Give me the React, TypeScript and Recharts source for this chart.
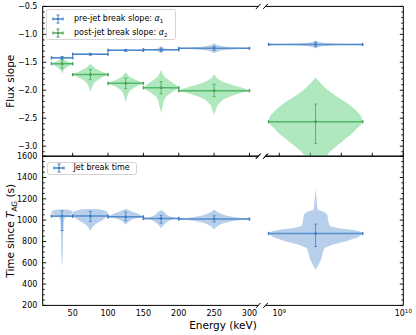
import React from 'react';
import { ComposedChart, Scatter, XAxis, YAxis, ErrorBar, ReferenceLine, Legend, Label } from 'recharts';

const FONT = '"DejaVu Sans", sans-serif';

// ---------------- data ----------------
// energy bins (keV); last bin is the very-high-energy one
const binLowKeV = [20, 50, 100, 150, 200, 8.2e8];
const binHighKeV = [50, 100, 150, 200, 300, 4.7e9];

const alpha1 = [-1.42, -1.355, -1.285, -1.275, -1.25, -1.18];
const alpha1ErrPlus = [0.02, 0.015, 0.015, 0.03, 0.035, 0.04];
const alpha1ErrMinus = [0.02, 0.015, 0.015, 0.03, 0.035, 0.04];

const alpha2 = [-1.525, -1.72, -1.876, -1.955, -2.008, -2.563];
const alpha2ErrPlus = [0.07, 0.09, 0.095, 0.11, 0.114, 0.317];
const alpha2ErrMinus = [0.08, 0.09, 0.095, 0.11, 0.107, 0.393];

const tJet = [1038, 1038, 1031, 1016, 1010, 875];
const tJetErrPlus = [50, 44, 45, 28, 31, 88];
const tJetErrMinus = [135, 50, 36, 44, 28, 122];

// violin outlines: [value, half-width as a fraction of half the bin width]
const alpha1Violins = [
  [[-1.39, 0], [-1.4, 0.15], [-1.41, 0.4], [-1.42, 1], [-1.43, 0.4], [-1.44, 0.15], [-1.455, 0]],
  [[-1.33, 0], [-1.34, 0.15], [-1.348, 0.45], [-1.355, 1], [-1.362, 0.45], [-1.37, 0.15], [-1.38, 0]],
  [[-1.26, 0], [-1.27, 0.15], [-1.278, 0.45], [-1.285, 1], [-1.292, 0.45], [-1.3, 0.15], [-1.31, 0]],
  [[-1.205, 0], [-1.235, 0.07], [-1.252, 0.2], [-1.263, 0.42], [-1.275, 1], [-1.287, 0.42], [-1.298, 0.2], [-1.315, 0.07], [-1.345, 0]],
  [[-1.16, 0], [-1.19, 0.08], [-1.21, 0.2], [-1.225, 0.4], [-1.238, 0.7], [-1.25, 1], [-1.262, 0.7], [-1.275, 0.4], [-1.29, 0.2], [-1.31, 0.08], [-1.34, 0]],
  [[-1.11, 0], [-1.135, 0.06], [-1.152, 0.18], [-1.165, 0.4], [-1.18, 1], [-1.195, 0.4], [-1.208, 0.18], [-1.225, 0.06], [-1.25, 0]],
];

const alpha2Violins = [
  [[-1.43, 0], [-1.46, 0.25], [-1.49, 0.6], [-1.51, 0.9], [-1.525, 1], [-1.55, 0.8], [-1.58, 0.5], [-1.61, 0.28], [-1.64, 0.15], [-1.68, 0.06], [-1.715, 0]],
  [[-1.52, 0], [-1.56, 0.1], [-1.607, 0.28], [-1.668, 0.66], [-1.7, 0.92], [-1.72, 1], [-1.75, 0.8], [-1.786, 0.57], [-1.847, 0.28], [-1.9, 0.15], [-1.936, 0.1], [-1.98, 0.05], [-2.03, 0]],
  [[-1.68, 0], [-1.72, 0.1], [-1.758, 0.22], [-1.817, 0.57], [-1.85, 0.85], [-1.876, 1], [-1.905, 0.8], [-1.936, 0.57], [-1.996, 0.28], [-2.04, 0.17], [-2.085, 0.11], [-2.15, 0.05], [-2.23, 0]],
  [[-1.63, 0], [-1.7, 0.08], [-1.758, 0.19], [-1.8, 0.35], [-1.847, 0.57], [-1.906, 0.85], [-1.955, 1], [-1.99, 0.85], [-2.026, 0.66], [-2.07, 0.45], [-2.115, 0.28], [-2.17, 0.18], [-2.233, 0.13], [-2.32, 0.06], [-2.41, 0]],
  [[-1.715, 0], [-1.786, 0.08], [-1.847, 0.24], [-1.906, 0.52], [-1.965, 0.85], [-2.008, 1], [-2.04, 0.8], [-2.085, 0.57], [-2.13, 0.38], [-2.174, 0.24], [-2.264, 0.1], [-2.35, 0.05], [-2.44, 0]],
  [[-1.77, 0], [-1.83, 0.06], [-1.906, 0.14], [-1.98, 0.24], [-2.055, 0.35], [-2.13, 0.48], [-2.205, 0.63], [-2.28, 0.75], [-2.353, 0.85], [-2.443, 0.95], [-2.5, 0.99], [-2.563, 1], [-2.62, 0.96], [-2.68, 0.88], [-2.74, 0.82], [-2.8, 0.74], [-2.86, 0.65], [-2.92, 0.56], [-2.98, 0.47], [-3.04, 0.39], [-3.1, 0.3], [-3.18, 0.22]],
];

const tJetViolins = [
  [[1101, 0], [1099, 0.45], [1095, 0.7], [1088, 0.88], [1078, 0.98], [1068, 1], [1058, 0.9], [1048, 0.7], [1038, 0.48], [1025, 0.3], [1010, 0.2], [985, 0.16], [950, 0.13], [900, 0.11], [850, 0.09], [800, 0.085], [740, 0.075], [680, 0.06], [630, 0.045], [590, 0.025], [565, 0]],
  [[1104, 0], [1102, 0.35], [1099, 0.57], [1090, 0.8], [1081, 0.92], [1066, 1], [1050, 0.98], [1038, 0.95], [1020, 0.85], [1003, 0.72], [988, 0.55], [972, 0.38], [955, 0.24], [940, 0.15], [920, 0.07], [900, 0]],
  [[1106, 0], [1095, 0.15], [1081, 0.34], [1062, 0.66], [1044, 0.9], [1031, 1], [1020, 0.7], [1012, 0.47], [994, 0.22], [975, 0.1], [956, 0]],
  [[1097, 0], [1080, 0.12], [1066, 0.23], [1044, 0.38], [1030, 0.6], [1022, 0.85], [1016, 1], [1008, 0.7], [998, 0.5], [987, 0.38], [970, 0.25], [956, 0.15], [940, 0.07], [925, 0]],
  [[1097, 0], [1080, 0.07], [1066, 0.14], [1044, 0.33], [1025, 0.66], [1016, 0.85], [1010, 1], [1000, 0.7], [987, 0.47], [975, 0.3], [962, 0.19], [940, 0.08], [915, 0]],
  [[1295, 0], [1240, 0.012], [1175, 0.025], [1120, 0.035], [1097, 0.045], [1085, 0.12], [1075, 0.19], [1050, 0.25], [987, 0.27], [945, 0.3], [925, 0.49], [909, 0.77], [895, 0.92], [880, 1], [860, 0.97], [840, 0.9], [832, 0.85], [801, 0.65], [769, 0.35], [738, 0.19], [691, 0.15], [644, 0.13], [597, 0.08], [565, 0.04], [535, 0]],
];

// ticks
const lowMajorTicks = [50, 100, 150, 200, 250, 300];
const lowMinorTicks = [10, 20, 30, 40, 60, 70, 80, 90, 110, 120, 130, 140, 160, 170, 180, 190, 210, 220, 230, 240, 260, 270, 280, 290, 310];
const highTickExps = [9, 9.25, 9.5, 9.75, 10];
const highLabelExps = [9, 10];
const slopeMajorTicks = [-0.5, -1.0, -1.5, -2.0, -2.5, -3.0];
const slopeMinorTicks = [-0.6, -0.7, -0.8, -0.9, -1.1, -1.2, -1.3, -1.4, -1.6, -1.7, -1.8, -1.9, -2.1, -2.2, -2.3, -2.4, -2.6, -2.7, -2.8, -2.9, -3.1];
const timeMajorTicks = [200, 400, 600, 800, 1000, 1200, 1400, 1600];
const timeMinorTicks = [250, 300, 350, 450, 500, 550, 650, 700, 750, 850, 900, 950, 1050, 1100, 1150, 1250, 1300, 1350, 1450, 1500, 1550];

// ---------------- broken-axis geometry ----------------
const LEFT_MIN = 7.6;
const LEFT_MAX = 312.5;
const GAP = 10.2;
const LOG_MIN = 8.889;
const LOG_MAX = 10;
const DECADE = 175.4;
const RIGHT_MIN = LEFT_MAX + GAP;
const U_MAX = RIGHT_MIN + (LOG_MAX - LOG_MIN) * DECADE;
const toU = (e: number) => (e < 1e6 ? e : RIGHT_MIN + (Math.log10(e) - LOG_MIN) * DECADE);
const X_DOMAIN = [LEFT_MIN, U_MAX];
const SLOPE_DOMAIN = [-3.18, -0.5];
const TIME_DOMAIN = [200, 1600];

const xMajorTicks = [...lowMajorTicks, ...highTickExps.map((e) => toU(10 ** e))];
const xMinorTicks = lowMinorTicks;
const xLabelTicks = [
  ...lowMajorTicks.map((v) => ({ u: v, text: String(v), sup: '' })),
  ...highLabelExps.map((e) => ({ u: toU(10 ** e), text: '10', sup: String(e) })),
];

// ---------------- colours ----------------
const BLUE = '#3d7cc4';
const BLUE_FILL = '#6f9fd6';
const GREEN = '#4b9e52';
const GREEN_FILL = '#5fd07f';

// ---------------- builders ----------------
const binGeom = (i: number) => {
  const lo = toU(binLowKeV[i]);
  const hi = toU(binHighKeV[i]);
  return { lo, hi, c: (lo + hi) / 2, h: (hi - lo) / 2 };
};

const violinPoints = (profile: number[][], i: number) => {
  const { c, h } = binGeom(i);
  const right = profile.map(([v, f]) => ({ u: c + f * h, y: v }));
  const left = [...profile].reverse().map(([v, f]) => ({ u: c - f * h, y: v }));
  return [...right, ...left];
};

const seriesPoints = (vals: number[], plus: number[], minus: number[]) =>
  vals.map((v, i) => {
    const { lo, hi, c } = binGeom(i);
    return { u: c, y: v, ex: [c - lo, hi - c], ey: [minus[i], plus[i]] };
  });

const renderViolin = (fill: string, opacity: number) => (p: any) => {
  const pts: { x: number; y: number }[] = (p && p.points) || [];
  if (!pts.length) return <g />;
  const d = pts.map((q, i) => `${i === 0 ? 'M' : 'L'}${q.x},${q.y}`).join(' ') + ' Z';
  return <path d={d} fill={fill} fillOpacity={opacity} stroke="none" />;
};

const blankShape = () => <g />;
const blankTick = () => <g />;
const dotShape = (color: string) => (p: any) => (
  <rect x={p.cx - 1.2} y={p.cy - 1.2} width={2.4} height={2.4} fill={color} />
);

const fmtSlope = (v: number) => (v < 0 ? '\u2212' : '') + Math.abs(v).toFixed(1);

const XTick = (props: any) => {
  const { x, y, payload } = props;
  const t = xLabelTicks.find((k) => Math.abs(k.u - payload.value) < 1e-6);
  if (!t) return <g />;
  return (
    <text x={x} y={y + 10.8} textAnchor="middle" fontSize={8} fontFamily={FONT} fill="#000">
      {t.sup ? (
        <>
          <tspan>{t.text}</tspan>
          <tspan fontSize={5.6} dy={-3.6}>{t.sup}</tspan>
        </>
      ) : (
        t.text
      )}
    </text>
  );
};

const TICK_LINE = { stroke: '#000', strokeWidth: 0.9 };
const SPINE = { stroke: '#000', strokeWidth: 1 };

const ErrMarker = ({ color }: { color: string }) => (
  <svg width={14} height={12} style={{ position: 'absolute', left: -7, top: -6, overflow: 'visible' }}>
    <line x1={2} y1={6} x2={12} y2={6} stroke={color} strokeWidth={1.4} />
    <line x1={2} y1={4.5} x2={2} y2={7.5} stroke={color} strokeWidth={1.2} />
    <line x1={12} y1={4.5} x2={12} y2={7.5} stroke={color} strokeWidth={1.2} />
    <line x1={7} y1={2} x2={7} y2={10} stroke={color} strokeWidth={1} />
    <line x1={5.5} y1={2} x2={8.5} y2={2} stroke={color} strokeWidth={1} />
    <line x1={5.5} y1={10} x2={8.5} y2={10} stroke={color} strokeWidth={1} />
    <rect x={6} y={5} width={2} height={2} fill={color} />
  </svg>
);

type Row = { color: string; label: React.ReactNode; cy: number };
const LegendBox = ({ width, height, rows, mx, tx }: { width: number; height: number; rows: Row[]; mx: number; tx: number }) => (
  <div
    style={{
      position: 'relative',
      width,
      height,
      boxSizing: 'border-box',
      border: '1px solid #d4d4d4',
      borderRadius: 2.5,
      background: 'rgba(255,255,255,0.85)',
      fontFamily: FONT,
      fontSize: 8,
      lineHeight: 'normal',
      color: '#000',
      textAlign: 'left',
    }}
  >
    {rows.map((r, i) => (
      <React.Fragment key={i}>
        <div style={{ position: 'absolute', left: mx, top: r.cy }}>
          <ErrMarker color={r.color} />
        </div>
        <div style={{ position: 'absolute', left: tx, top: r.cy - 6, height: 12, lineHeight: '12px', whiteSpace: 'nowrap', fontSize: 8 }}>
          {r.label}
        </div>
      </React.Fragment>
    ))}
  </div>
);

const alphaLabel = (prefix: string, idx: string) => (
  <>
    {prefix}
    <i>α</i>
    <span style={{ fontSize: '70%', position: 'relative', top: 2 }}>{idx}</span>
  </>
);

const segLine = (key: string, x1: number, y1: number, x2: number, y2: number) => (
  <ReferenceLine
    key={key}
    xAxisId="main"
    yAxisId="main"
    segment={[{ x: x1, y: y1 }, { x: x2, y: y2 }]}
    stroke="#000"
    strokeWidth={1}
    ifOverflow="visible"
  />
);

const frame = (yTop: number, yBot: number, dv: number) => {
  const du = 3.25;
  const out: React.ReactNode[] = [];
  [yTop, yBot].forEach((yy, k) => {
    out.push(segLine(`sl${k}`, LEFT_MIN, yy, LEFT_MAX, yy));
    out.push(segLine(`sr${k}`, RIGHT_MIN, yy, U_MAX, yy));
    out.push(segLine(`bl${k}`, LEFT_MAX - du, yy - dv, LEFT_MAX + du, yy + dv));
    out.push(segLine(`br${k}`, RIGHT_MIN - du, yy - dv, RIGHT_MIN + du, yy + dv));
  });
  return out;
};

const yLabelContent = (kind: 'slope' | 'time') => (p: any) => {
  const vb = (p && p.viewBox) || { x: 0, y: 0, width: 0, height: 0 };
  const cy = vb.y + vb.height / 2;
  const x = 14.2;
  if (kind === 'slope') {
    return (
      <text x={x} y={cy} transform={`rotate(-90, ${x}, ${cy})`} textAnchor="middle" fontSize={10.5} fontFamily={FONT} fill="#000">
        Flux slope
      </text>
    );
  }
  return (
    <text x={x} y={cy} transform={`rotate(-90, ${x}, ${cy})`} textAnchor="middle" fontSize={10.5} fontFamily={FONT} fill="#000">
      <tspan>Time since </tspan>
      <tspan fontStyle="italic">T</tspan>
      <tspan fontSize={7.4} dy={2.4}>AG</tspan>
      <tspan dy={-2.4}> (s)</tspan>
    </text>
  );
};

const xLabelContent = (p: any) => {
  const vb = (p && p.viewBox) || { x: 0, y: 0, width: 0, height: 0 };
  return (
    <text x={vb.x + vb.width / 2} y={vb.y + 23.4} textAnchor="middle" fontSize={10.5} fontFamily={FONT} fill="#000">
      Energy (keV)
    </text>
  );
};

const hTickAxis = (id: string, orientation: 'top' | 'bottom', ticks: number[], size: number) => (
  <XAxis
    key={id}
    xAxisId={id}
    orientation={orientation}
    type="number"
    domain={X_DOMAIN}
    allowDataOverflow
    ticks={ticks}
    interval={0}
    height={0.01}
    axisLine={false}
    tick={blankTick}
    tickSize={size}
    tickLine={TICK_LINE}
    stroke="#000"
  />
);

const vTickAxis = (id: string, orientation: 'left' | 'right', domain: number[], ticks: number[], size: number, spine: boolean) => (
  <YAxis
    key={id}
    yAxisId={id}
    orientation={orientation}
    type="number"
    domain={domain}
    allowDataOverflow
    ticks={ticks}
    interval={0}
    width={0.01}
    axisLine={spine ? SPINE : false}
    tick={blankTick}
    tickSize={size}
    tickLine={TICK_LINE}
    stroke="#000"
  />
);

const PANEL_TOP = 6.4;
const PANEL_MID = 156.2;
const PANEL_BOT = 305.4;
const PLOT_LEFT = 42.7;
const PLOT_RIGHT = 403.3;

export default function App() {
  const a1Pts = seriesPoints(alpha1, alpha1ErrPlus, alpha1ErrMinus);
  const a2Pts = seriesPoints(alpha2, alpha2ErrPlus, alpha2ErrMinus);
  const tPts = seriesPoints(tJet, tJetErrPlus, tJetErrMinus);

  return (
    <div style={{ position: 'absolute', left: 0, top: 0, width: 416, height: 335, background: '#fff', overflow: 'hidden' }}>
      {/* ---------- top panel ---------- */}
      <div style={{ position: 'absolute', left: 0, top: 0 }}>
        <ComposedChart
          width={416}
          height={160}
          margin={{ top: PANEL_TOP - 0.02, right: 416 - PLOT_RIGHT - 0.02, bottom: 160 - PANEL_MID - 0.02, left: PLOT_LEFT - 0.03 }}
        >
          <XAxis
            xAxisId="main"
            dataKey="u"
            type="number"
            domain={X_DOMAIN}
            allowDataOverflow
            ticks={xMajorTicks}
            interval={0}
            height={0.01}
            axisLine={false}
            tick={blankTick}
            tickSize={-3.5}
            tickLine={TICK_LINE}
            stroke="#000"
          />
          {hTickAxis('bm', 'bottom', xMinorTicks, -2)}
          {hTickAxis('tM', 'top', xMajorTicks, -3.5)}
          {hTickAxis('tm', 'top', xMinorTicks, -2)}
          <YAxis
            yAxisId="main"
            dataKey="y"
            type="number"
            domain={SLOPE_DOMAIN}
            allowDataOverflow
            ticks={slopeMajorTicks}
            interval={0}
            width={0.01}
            axisLine={SPINE}
            tickLine={false}
            tickSize={0}
            tickMargin={5.3}
            tick={{ fill: '#000', fontSize: 8, fontFamily: FONT }}
            tickFormatter={fmtSlope}
            stroke="#000"
          >
            <Label content={yLabelContent('slope')} />
          </YAxis>
          {vTickAxis('lM', 'left', SLOPE_DOMAIN, slopeMajorTicks, -3.5, false)}
          {vTickAxis('lm', 'left', SLOPE_DOMAIN, slopeMinorTicks, -2, false)}
          {vTickAxis('rM', 'right', SLOPE_DOMAIN, slopeMajorTicks, -3.5, true)}
          {vTickAxis('rm', 'right', SLOPE_DOMAIN, slopeMinorTicks, -2, false)}

          {alpha1Violins.map((pr, i) => (
            <Scatter
              key={`a1v${i}`}
              xAxisId="main"
              yAxisId="main"
              data={violinPoints(pr, i)}
              line={renderViolin(BLUE_FILL, 0.5)}
              shape={blankShape}
              isAnimationActive={false}
            />
          ))}
          {alpha2Violins.map((pr, i) => (
            <Scatter
              key={`a2v${i}`}
              xAxisId="main"
              yAxisId="main"
              data={violinPoints(pr, i)}
              line={renderViolin(GREEN_FILL, 0.5)}
              shape={blankShape}
              isAnimationActive={false}
            />
          ))}
          <Scatter xAxisId="main" yAxisId="main" data={a2Pts} shape={dotShape(GREEN)} isAnimationActive={false}>
            <ErrorBar dataKey="ex" direction="x" width={1.6} stroke={GREEN} strokeWidth={1.5} isAnimationActive={false} />
            <ErrorBar dataKey="ey" direction="y" width={1.5} stroke={GREEN} strokeWidth={1} isAnimationActive={false} />
          </Scatter>
          <Scatter xAxisId="main" yAxisId="main" data={a1Pts} shape={dotShape(BLUE)} isAnimationActive={false}>
            <ErrorBar dataKey="ex" direction="x" width={1.6} stroke={BLUE} strokeWidth={1.5} isAnimationActive={false} />
            <ErrorBar dataKey="ey" direction="y" width={1.5} stroke={BLUE} strokeWidth={1} isAnimationActive={false} />
          </Scatter>
          {frame(SLOPE_DOMAIN[1], SLOPE_DOMAIN[0], 0.0447)}
          <Legend
            verticalAlign="middle"
            align="center"
            layout="horizontal"
            width={130}
            height={30.7}
            wrapperStyle={{ left: 46, top: 9.3, width: 130, height: 30.7, margin: 0, padding: 0 }}
            content={() => (
              <LegendBox
                width={130}
                height={30.7}
                mx={11.3}
                tx={27}
                rows={[
                  { color: BLUE, label: alphaLabel('pre-jet break slope: ', '1'), cy: 8.7 },
                  { color: GREEN, label: alphaLabel('post-jet break slope: ', '2'), cy: 23 },
                ]}
              />
            )}
          />
        </ComposedChart>
      </div>

      {/* ---------- bottom panel ---------- */}
      <div style={{ position: 'absolute', left: 0, top: 0 }}>
        <ComposedChart
          width={416}
          height={335}
          margin={{ top: PANEL_MID - 0.02, right: 416 - PLOT_RIGHT - 0.02, bottom: 335 - PANEL_BOT - 0.03, left: PLOT_LEFT - 0.03 }}
        >
          {hTickAxis('bM', 'bottom', xMajorTicks, -3.5)}
          {hTickAxis('bm', 'bottom', xMinorTicks, -2)}
          <XAxis
            xAxisId="main"
            dataKey="u"
            type="number"
            domain={X_DOMAIN}
            allowDataOverflow
            ticks={xLabelTicks.map((t) => t.u)}
            interval={0}
            height={0.01}
            axisLine={false}
            tickLine={false}
            tickSize={0}
            tickMargin={0}
            tick={(p: any) => <XTick {...p} />}
            stroke="#000"
          >
            <Label content={xLabelContent} />
          </XAxis>
          {hTickAxis('tM', 'top', xMajorTicks, -3.5)}
          {hTickAxis('tm', 'top', xMinorTicks, -2)}
          <YAxis
            yAxisId="main"
            dataKey="y"
            type="number"
            domain={TIME_DOMAIN}
            allowDataOverflow
            ticks={timeMajorTicks}
            interval={0}
            width={0.01}
            axisLine={SPINE}
            tickLine={false}
            tickSize={0}
            tickMargin={5.3}
            tick={{ fill: '#000', fontSize: 8, fontFamily: FONT }}
            stroke="#000"
          >
            <Label content={yLabelContent('time')} />
          </YAxis>
          {vTickAxis('lM', 'left', TIME_DOMAIN, timeMajorTicks, -3.5, false)}
          {vTickAxis('lm', 'left', TIME_DOMAIN, timeMinorTicks, -2, false)}
          {vTickAxis('rM', 'right', TIME_DOMAIN, timeMajorTicks, -3.5, true)}
          {vTickAxis('rm', 'right', TIME_DOMAIN, timeMinorTicks, -2, false)}

          {tJetViolins.map((pr, i) => (
            <Scatter
              key={`tv${i}`}
              xAxisId="main"
              yAxisId="main"
              data={violinPoints(pr, i)}
              line={renderViolin(BLUE_FILL, 0.5)}
              shape={blankShape}
              isAnimationActive={false}
            />
          ))}
          <Scatter xAxisId="main" yAxisId="main" data={tPts} shape={dotShape(BLUE)} isAnimationActive={false}>
            <ErrorBar dataKey="ex" direction="x" width={1.6} stroke={BLUE} strokeWidth={1.5} isAnimationActive={false} />
            <ErrorBar dataKey="ey" direction="y" width={1.5} stroke={BLUE} strokeWidth={1} isAnimationActive={false} />
          </Scatter>
          {frame(TIME_DOMAIN[1], TIME_DOMAIN[0], 23.5)}
          <Legend
            verticalAlign="middle"
            align="center"
            layout="horizontal"
            width={90}
            height={13.5}
            wrapperStyle={{ left: 46.7, top: 161.7, width: 90, height: 13.5, margin: 0, padding: 0 }}
            content={() => (
              <LegendBox
                width={90}
                height={13.5}
                mx={11.6}
                tx={25.8}
                rows={[{ color: BLUE, label: 'Jet break time', cy: 5.2 }]}
              />
            )}
          />
        </ComposedChart>
      </div>
    </div>
  );
}
